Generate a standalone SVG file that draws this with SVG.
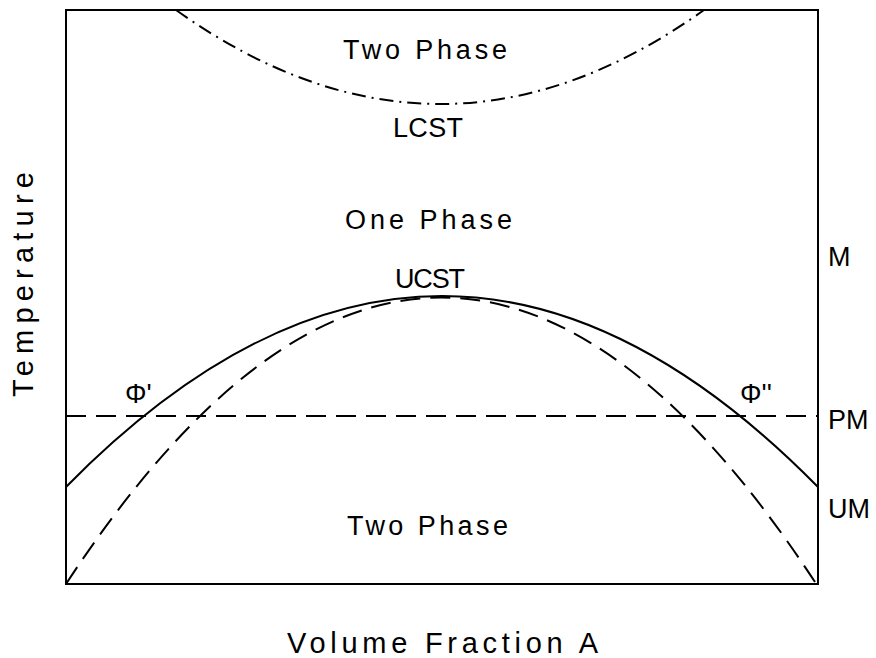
<svg xmlns="http://www.w3.org/2000/svg" width="876" height="658" viewBox="0 0 876 658">
<style>
.t{font-family:"Liberation Sans",Arial,sans-serif;font-size:27px;fill:#000}
.ax{font-size:29px}
.ln{fill:none;stroke:#000;stroke-width:2}
.dash{stroke-dasharray:20 10}
.dd{stroke-dasharray:14 6 2 6}
</style>
<rect x="0" y="0" width="876" height="658" fill="#fff"/>
<g id="frame"><rect class="ln" x="66" y="10" width="752" height="574"/></g>
<g id="curves">
<path id="lcst" class="ln dd" d="M176,10 Q440,198 704,10"/>
<path id="binodal" class="ln" d="M66,487 Q442,105 818,487"/>
<path id="spinodal" class="ln dash" d="M66,584 Q441,12 815,582"/>
<path id="pm-line" class="ln dash" d="M66,416 H818"/>
</g>
<g id="labels">
<text class="t" x="343" y="59" textLength="164" lengthAdjust="spacing">Two Phase</text>
<text class="t" x="393" y="137" textLength="70" lengthAdjust="spacing">LCST</text>
<text class="t" x="345" y="229" textLength="167" lengthAdjust="spacing">One Phase</text>
<text class="t" x="395" y="288" textLength="70" lengthAdjust="spacing">UCST</text>
<text class="t" x="347" y="535" textLength="161" lengthAdjust="spacing">Two Phase</text>
<text class="t" x="125" y="403">Φ'</text>
<text class="t" x="740" y="403">Φ''</text>
<text class="t" x="828" y="266">M</text>
<text class="t" x="828" y="429">PM</text>
<text class="t" x="828" y="518">UM</text>
<text class="t ax" x="287" y="653" textLength="311" lengthAdjust="spacing">Volume Fraction A</text>
<text class="t ax" transform="translate(33,397) rotate(-90)" textLength="225" lengthAdjust="spacing">Temperature</text>
</g>
</svg>
